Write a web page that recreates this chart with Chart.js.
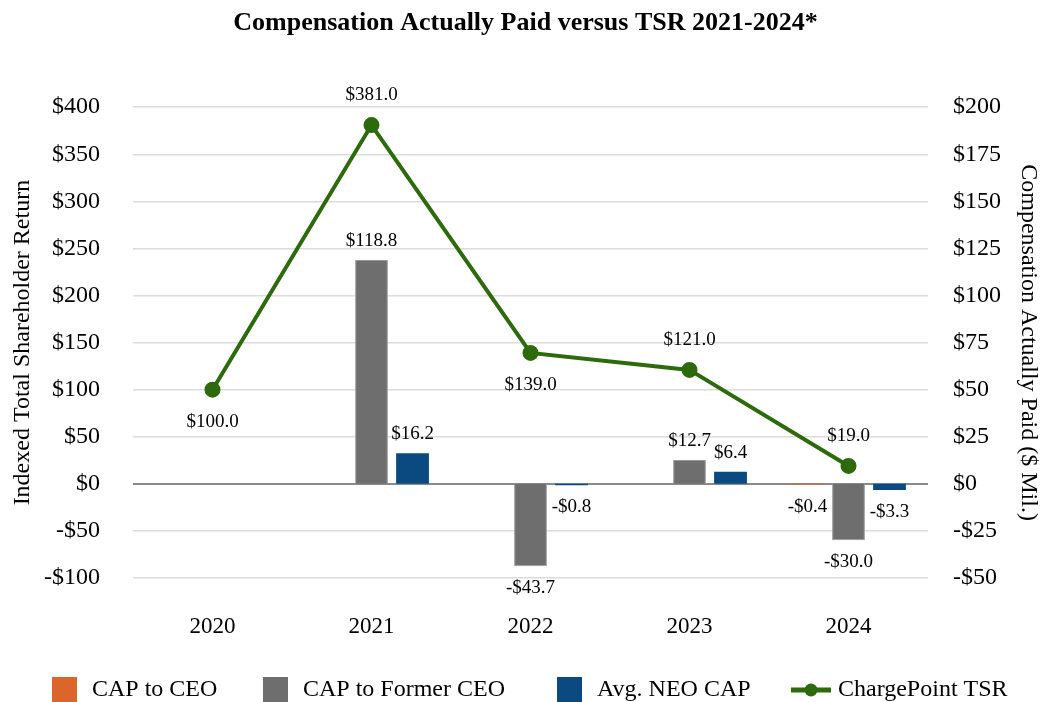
<!DOCTYPE html>
<html>
<head>
<meta charset="utf-8">
<script src="https://cdn.jsdelivr.net/npm/chart.js@4.4.1/dist/chart.umd.min.js"></script>
<style>
  html, body { margin: 0; padding: 0; background: #fff; }
</style>
</head>
<body>
<canvas id="capChart" width="1049" height="702"></canvas>
<script>
// values
const years = ['2020', '2021', '2022', '2023', '2024'];
const capCeo = [null, null, null, null, -0.4];
const capFormerCeo = [null, 118.8, -43.7, 12.7, -30.0];
const avgNeoCap = [null, 16.2, -0.8, 6.4, -3.3];
const tsr = [100, 381, 139, 121, 19];
const tsrLabelSide = ['below', 'above', 'below', 'above', 'above'];

const serif = "'Liberation Serif', 'Times New Roman', serif";
const colors = { ceo: '#DB652A', former: '#6E6E6E', neo: '#0B4A80', tsr: '#2C6A0C' };

const money = v => (v < 0 ? '-$' : '$') + Math.abs(v);
const money1 = v => (v < 0 ? '-$' : '$') + Math.abs(v).toFixed(1);

// value labels on bars and line points
const valueLabels = {
  id: 'valueLabels',
  afterDatasetsDraw(chart) {
    const ctx = chart.ctx;
    ctx.save();
    ctx.font = '19px ' + serif;
    ctx.fillStyle = '#000';
    ctx.textAlign = 'center';
    ctx.textBaseline = 'middle';
    chart.data.datasets.forEach((ds, i) => {
      const meta = chart.getDatasetMeta(i);
      meta.data.forEach((el, j) => {
        const v = ds.data[j];
        if (v === null || v === undefined) return;
        let y;
        if (ds.type === 'line') {
          y = tsrLabelSide[j] === 'above' ? el.y - 30 : el.y + 32;
        } else {
          y = v >= 0 ? el.y - 19 : el.y + 22;
        }
        ctx.fillText(money1(v), el.x, y);
      });
    });
    ctx.restore();
  }
};

// legend row at the bottom
const bottomLegend = {
  id: 'bottomLegend',
  afterDraw(chart) {
    const ctx = chart.ctx;
    const items = [
      { text: 'CAP to CEO', color: colors.ceo, kind: 'box', x: 52 },
      { text: 'CAP to Former CEO', color: colors.former, kind: 'box', x: 263 },
      { text: 'Avg. NEO CAP', color: colors.neo, kind: 'box', x: 557 },
      { text: 'ChargePoint TSR', color: colors.tsr, kind: 'line', x: 791 }
    ];
    ctx.save();
    ctx.font = '24px ' + serif;
    ctx.textBaseline = 'middle';
    ctx.textAlign = 'left';
    const yc = 690;
    items.forEach(it => {
      if (it.kind === 'box') {
        ctx.fillStyle = it.color;
        ctx.fillRect(it.x, 677, 25, 26);
        ctx.fillStyle = '#000';
        ctx.fillText(it.text, it.x + 40, yc);
      } else {
        ctx.strokeStyle = it.color;
        ctx.lineWidth = 5;
        ctx.beginPath();
        ctx.moveTo(it.x, yc);
        ctx.lineTo(it.x + 40, yc);
        ctx.stroke();
        ctx.fillStyle = it.color;
        ctx.beginPath();
        ctx.arc(it.x + 20, yc, 6.5, 0, Math.PI * 2);
        ctx.fill();
        ctx.fillStyle = '#000';
        ctx.fillText(it.text, it.x + 47, yc);
      }
    });
    ctx.restore();
  }
};

const barStyle = { barPercentage: 0.8, categoryPercentage: 0.774, yAxisID: 'y1', order: 1 };

new Chart(document.getElementById('capChart'), {
  data: {
    labels: years,
    datasets: [
      { type: 'bar', label: 'CAP to CEO', data: capCeo, backgroundColor: colors.ceo, ...barStyle },
      { type: 'bar', label: 'CAP to Former CEO', data: capFormerCeo, backgroundColor: colors.former,
        borderColor: '#9a9a9a', borderWidth: 1, ...barStyle },
      { type: 'bar', label: 'Avg. NEO CAP', data: avgNeoCap, backgroundColor: colors.neo, ...barStyle },
      {
        type: 'line',
        label: 'ChargePoint TSR',
        data: tsr,
        yAxisID: 'y',
        order: 0,
        borderColor: colors.tsr,
        backgroundColor: colors.tsr,
        borderWidth: 4,
        pointRadius: 6,
        pointHoverRadius: 6,
        tension: 0
      }
    ]
  },
  options: {
    responsive: false,
    animation: false,
    devicePixelRatio: 1,
    layout: { padding: { left: 8, right: 6, top: 0, bottom: 0 } },
    plugins: {
      legend: { display: false },
      tooltip: { enabled: false },
      title: {
        display: true,
        text: 'Compensation Actually Paid versus TSR 2021-2024*',
        color: '#000',
        font: { family: serif, size: 26, weight: 'bold' },
        padding: { top: 8, bottom: 68 }
      }
    },
    scales: {
      x: {
        grid: { display: false, drawTicks: false },
        border: { display: false },
        ticks: { color: '#000', font: { family: serif, size: 23 }, padding: 35 },
        afterFit: s => { s.height = 124; }
      },
      y: {
        position: 'left',
        min: -100,
        max: 400,
        ticks: { stepSize: 50, color: '#000', font: { family: serif, size: 24 }, padding: 33, callback: money },
        grid: {
          drawTicks: false,
          color: c => (c.tick && c.tick.value === 0 ? '#8a8a8a' : '#dcdcdc'),
          lineWidth: c => (c.tick && c.tick.value === 0 ? 2 : 1.5)
        },
        border: { display: false },
        title: {
          display: true,
          text: 'Indexed Total Shareholder Return',
          color: '#000',
          font: { family: serif, size: 24 },
          padding: { top: 0, bottom: 0 }
        },
        afterFit: s => { s.width = 125; }
      },
      y1: {
        position: 'right',
        min: -50,
        max: 200,
        ticks: { stepSize: 25, color: '#000', font: { family: serif, size: 24 }, padding: 25, callback: money },
        grid: { display: false, drawTicks: false },
        border: { display: false },
        title: {
          display: true,
          text: 'Compensation Actually Paid ($ Mil.)',
          color: '#000',
          font: { family: serif, size: 24 },
          padding: { top: 0, bottom: 0 }
        },
        afterFit: s => { s.width = 115; }
      }
    }
  },
  plugins: [valueLabels, bottomLegend]
});
</script>
</body>
</html>
